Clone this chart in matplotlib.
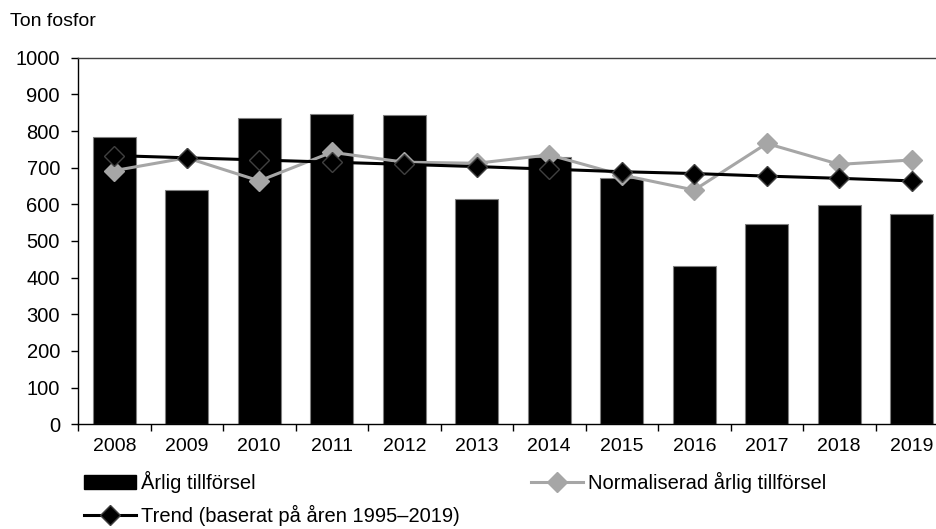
import matplotlib
matplotlib.use("Agg")
import matplotlib.pyplot as plt
import numpy as np
from matplotlib.lines import Line2D
from matplotlib.patches import Patch

plt.rcParams['font.family'] = ['Liberation Sans', 'DejaVu Sans']

years = ['2008', '2009', '2010', '2011', '2012', '2013', '2014', '2015', '2016', '2017', '2018', '2019']
arlig = [783, 638, 835, 846, 845, 614, 730, 671, 432, 547, 598, 575]
normaliserad = [692, 727, 664, 742, 715, 712, 735, 680, 639, 766, 709, 721]
trend = [733, 727, 721, 715, 709, 703, 696, 689, 684, 677, 671, 664]
yticks = [0, 100, 200, 300, 400, 500, 600, 700, 800, 900, 1000]

W, H = 936, 529
fig = plt.figure(figsize=(W / 100, H / 100), dpi=100)
ax = fig.add_axes([78 / W, (H - 424.3) / H, 870 / W, 366.6 / H])

x = np.arange(len(years))
ax.bar(x, arlig, width=0.59, color='black', edgecolor='#808080', linewidth=0.8, zorder=2)
ax.plot(x, normaliserad, color='#a6a6a6', lw=2.2, marker='D', ms=10,
        mfc='#a6a6a6', mec='#a6a6a6', zorder=3)
ax.plot(x, trend, color='black', lw=2.2, marker='D', ms=10,
        mfc='black', mec='#404040', mew=1.0, zorder=4)

ax.set_xlim(-0.5, len(years) - 0.5)
ax.set_ylim(0, 1000)
ax.set_yticks(yticks)
ax.set_xticks(x)
ax.set_xticklabels(years)
ax.set_xticks(np.arange(-0.5, len(years), 1.0), minor=True)
ax.tick_params(axis='x', which='major', length=0, pad=10, labelsize=14)
ax.tick_params(axis='x', which='minor', length=5, direction='out', width=1, color='black')
ax.tick_params(axis='y', length=5, direction='out', width=1, pad=8, labelsize=14.5)

for s in ['left', 'bottom']:
    ax.spines[s].set_color('black')
    ax.spines[s].set_linewidth(1.0)
ax.spines['top'].set_color('#404040')
ax.spines['top'].set_linewidth(1.0)
ax.spines['right'].set_visible(False)

fig.text(10 / W, 1 - 21 / H, 'Ton fosfor', fontsize=14, va='center', ha='left')

h_bar = Patch(facecolor='black', edgecolor='black')
h_norm = Line2D([], [], color='#a6a6a6', lw=2.2, marker='D', ms=10, mfc='#a6a6a6', mec='#a6a6a6')
h_trend = Line2D([], [], color='black', lw=2.2, marker='D', ms=10, mfc='black', mec='#404040')

leg = fig.legend([h_bar, h_trend, h_norm],
                 ['Årlig tillförsel', 'Trend (baserat på åren 1995–2019)', 'Normaliserad årlig tillförsel'],
                 ncol=2, loc='upper left', bbox_to_anchor=(84 / W, 1 - 471 / H),
                 frameon=False, fontsize=14.5, handlelength=2.6, handletextpad=0.25,
                 columnspacing=3.5, labelspacing=0.6, borderpad=0, borderaxespad=0)

fig.savefig('out.png', dpi=100)
